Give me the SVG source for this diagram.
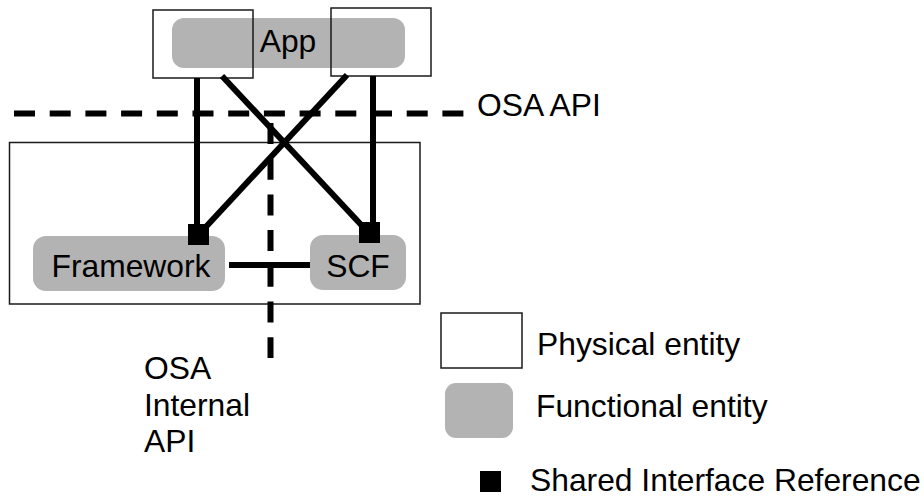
<svg xmlns="http://www.w3.org/2000/svg" width="924" height="497" viewBox="0 0 924 497">
<style>
text{font-family:"Liberation Sans",Arial,sans-serif;font-size:31.8px;fill:#000}
.phys{fill:none;stroke:#1a1a1a;stroke-width:1.5}
.func{fill:#b3b3b3;stroke:none}
.link{stroke:#000;stroke-width:6;fill:none}
.dash{stroke:#000;stroke-width:6;fill:none;stroke-dasharray:21 14.7}
.sir{fill:#000}
</style>
<rect width="924" height="497" fill="#fff"/>
<g id="node-app">
<rect class="func" x="172" y="18" width="233" height="50" rx="12"/>
<text x="288" y="52" text-anchor="middle">App</text>
</g>
<g id="node-app-host-left"><rect class="phys" x="153" y="10" width="100" height="68"/></g>
<g id="node-app-host-right"><rect class="phys" x="331" y="8" width="100" height="68"/></g>
<g id="node-network"><rect class="phys" x="9.5" y="142.5" width="410.5" height="161.5"/></g>
<g id="node-framework">
<rect class="func" x="33" y="236" width="192" height="55" rx="13"/>
<text x="131" y="277" text-anchor="middle">Framework</text>
</g>
<g id="node-scf">
<rect class="func" x="310" y="235" width="96" height="55" rx="13"/>
<text x="358" y="277" text-anchor="middle">SCF</text>
</g>
<g id="connectors">
<line class="dash" x1="14" y1="113.5" x2="464" y2="113.5"/>
<line class="dash" x1="270.5" y1="123" x2="270.5" y2="358"/>
<line class="link" x1="197" y1="78" x2="197" y2="228"/>
<line class="link" x1="373" y1="76" x2="373" y2="226"/>
<line class="link" x1="222" y1="76" x2="366" y2="230"/>
<line class="link" x1="347" y1="75" x2="203" y2="230"/>
<line class="link" x1="229" y1="265" x2="310" y2="265"/>
</g>
<g id="sir-framework"><rect class="sir" x="188" y="224" width="21" height="21"/></g>
<g id="sir-scf"><rect class="sir" x="359" y="222" width="21" height="21"/></g>
<g id="label-osa-api"><text x="477" y="116">OSA API</text></g>
<g id="label-osa-internal">
<text x="144" y="379">OSA</text>
<text x="144" y="416">Internal</text>
<text x="144" y="452">API</text>
</g>
<g id="legend">
<rect class="phys" x="441" y="313" width="81" height="55"/>
<text x="537" y="355">Physical entity</text>
<rect class="func" x="445" y="383" width="68" height="55" rx="11"/>
<text x="536" y="417">Functional entity</text>
<rect class="sir" x="480" y="471" width="21" height="21"/>
<text x="530" y="491">Shared Interface Reference</text>
</g>
</svg>
